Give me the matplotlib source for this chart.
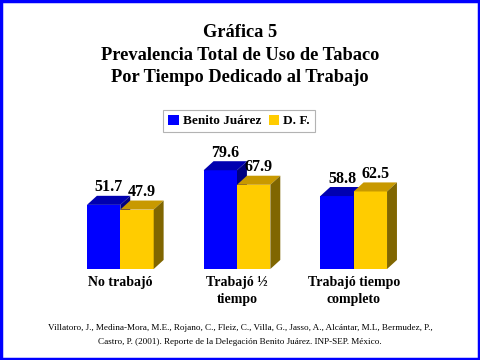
import matplotlib
matplotlib.use("Agg")
import matplotlib.pyplot as plt
from matplotlib.patches import Polygon, Rectangle

# datos
categorias = ["No trabajó", "Trabajó ½\ntiempo", "Trabajó tiempo\ncompleto"]
series = ["Benito Juárez", "D. F."]
benito_juarez = [51.7, 79.6, 58.8]
df = [47.9, 67.9, 62.5]

# colores: frente, tapa, lado
colores = [("#0000FF", "#0000B0", "#000080"),
           ("#FFCC00", "#C89900", "#806600")]

plt.rcParams['font.family'] = ['Liberation Serif', 'DejaVu Serif']

fig = plt.figure(figsize=(4.8, 3.6), dpi=100)
ax = fig.add_axes([62/480, 91/360, 350/480, 129/360])
ax.set_xlim(-0.5, 2.5)
ax.set_ylim(0, 104)
ax.axis('off')

w = 0.286   # ancho de cada barra
dx = 0.085  # profundidad en x
dy = 7.3    # profundidad en y

for j, valores in enumerate([benito_juarez, df]):
    frente, tapa, lado = colores[j]
    for i, v in enumerate(valores):
        x0 = i - w + j * w
        ax.add_patch(Rectangle((x0, 0), w, v, facecolor=frente, edgecolor='none', clip_on=False))
        ax.add_patch(Polygon([(x0, v), (x0 + w, v), (x0 + w + dx, v + dy), (x0 + dx, v + dy)],
                             closed=True, facecolor=tapa, edgecolor='none', clip_on=False))
        ax.add_patch(Polygon([(x0 + w, 0), (x0 + w + dx, dy), (x0 + w + dx, v + dy), (x0 + w, v)],
                             closed=True, facecolor=lado, edgecolor='none', clip_on=False))
        ax.text(x0 + w / 2 + dx / 2, v + dy + 0.3, f"{v:.1f}", ha='center', va='bottom',
                fontsize=11.5, fontweight='bold', clip_on=False)

for i, cat in enumerate(categorias):
    ax.text(i, -6, cat, ha='center', va='top', fontsize=10, fontweight='bold',
            linespacing=1.35, clip_on=False)

# titulo
fig.text(0.5, 1 - 55/360, "Gráfica 5\nPrevalencia Total de Uso de Tabaco\nPor Tiempo Dedicado al Trabajo",
         ha='center', va='center', fontsize=13.2, fontweight='bold', linespacing=1.42)

# leyenda
handles = [Rectangle((0, 0), 1, 1, facecolor=colores[k][0], edgecolor='none') for k in range(2)]
leg = fig.legend(handles, series, loc='center', bbox_to_anchor=(239/480, 1 - 121/360),
                 ncol=2, frameon=True, fancybox=False,
                 prop={'weight': 'bold', 'size': 9.5},
                 handlelength=0.8, handleheight=0.8, handletextpad=0.3,
                 columnspacing=0.6, borderpad=0.35, borderaxespad=0)
leg.get_frame().set_edgecolor('#A0A0A0')
leg.get_frame().set_linewidth(0.8)

# referencia
fig.text(0.5, 1 - 335.5/360,
         "Villatoro, J., Medina-Mora, M.E., Rojano, C., Fleiz, C., Villa, G., Jasso, A., Alcántar, M.L, Bermudez, P.,\n"
         "Castro, P. (2001). Reporte de la Delegación Benito Juárez. INP-SEP. México.",
         ha='center', va='center', fontsize=6.6, linespacing=2.0)

# borde azul
fig.patches.append(Rectangle((0.003, 0.004), 0.994, 0.992, transform=fig.transFigure,
                             fill=False, edgecolor='#0000FF', linewidth=2.5))

fig.savefig("out.png", dpi=100)
